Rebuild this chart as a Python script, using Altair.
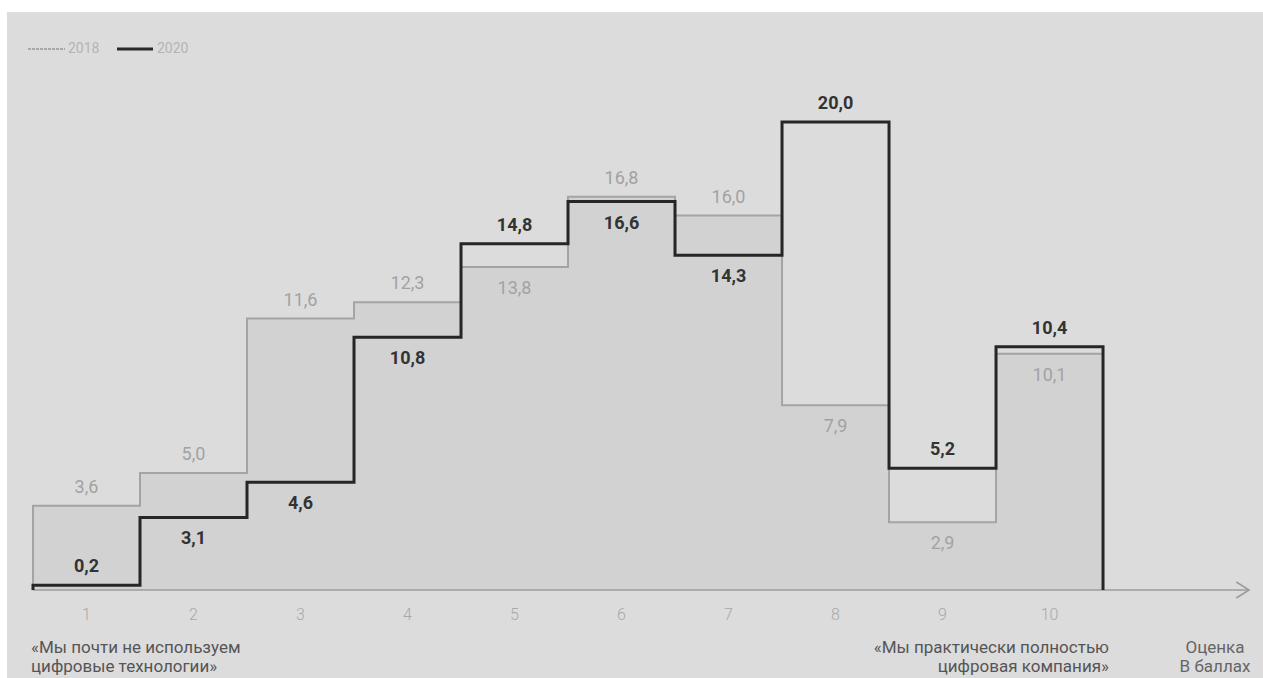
import altair as alt
import pandas as pd

# ---- data ----
scores = [1, 2, 3, 4, 5, 6, 7, 8, 9, 10]
values_2018 = [3.6, 5.0, 11.6, 12.3, 13.8, 16.8, 16.0, 7.9, 2.9, 10.1]
values_2020 = [0.2, 3.1, 4.6, 10.8, 14.8, 16.6, 14.3, 20.0, 5.2, 10.4]
series_names = ["2018", "2020"]
note_left = ["«Мы почти не используем", "цифровые технологии»"]
note_right = ["«Мы практически полностью", "цифровая компания»"]
axis_title = ["Оценка", "В баллах"]

FONT = "Roboto"
C2018_LINE = "#a4a4a4"
C2018_TEXT = "#a2a2a2"
C2020 = "#262626"
FILL = "#d2d2d2"
BG = "#dcdcdc"

W, H = 1256, 666
xscale = alt.Scale(domain=[0.257, 11.995], nice=False, zero=False)
yscale = alt.Scale(domain=[-3.76, 24.70], nice=False, zero=False)


def fmt(v):
    return f"{v:.1f}".replace(".", ",")


def step_points(vals):
    pts = [(scores[0] - 0.5, 0.0)]
    for s, v in zip(scores, vals):
        pts.append((s - 0.5, v))
        pts.append((s + 0.5, v))
    pts.append((scores[-1] + 0.5, 0.0))
    return pd.DataFrame({"x": [p[0] for p in pts], "y": [p[1] for p in pts],
                         "i": list(range(len(pts)))})


bars = pd.DataFrame({
    "score": scores,
    "x0": [s - 0.5 for s in scores],
    "x1": [s + 0.5 for s in scores],
    "zero": [0.0] * len(scores),
    "v2018": values_2018,
    "tick": [str(s) for s in scores],
})

fill = alt.Chart(bars).mark_rect(color=FILL).encode(
    x=alt.X("x0:Q", scale=xscale, axis=None),
    x2="x1:Q",
    y=alt.Y("zero:Q", scale=yscale, axis=None),
    y2="v2018:Q",
)

tick_labels = alt.Chart(bars).mark_text(
    font=FONT, fontSize=16, color="#a8a8a8", fontWeight=300, align="center", baseline="middle"
).encode(
    x=alt.X("score:Q", scale=xscale, axis=None),
    y=alt.value(603),
    text="tick:N",
)

line2018 = alt.Chart(step_points(values_2018)).mark_line(
    color=C2018_LINE, strokeWidth=2, interpolate="linear"
).encode(
    x=alt.X("x:Q", scale=xscale, axis=None),
    y=alt.Y("y:Q", scale=yscale, axis=None),
    order="i:Q",
)

line2020 = alt.Chart(step_points(values_2020)).mark_line(
    color=C2020, strokeWidth=3, interpolate="linear", strokeJoin="miter"
).encode(
    x=alt.X("x:Q", scale=xscale, axis=None),
    y=alt.Y("y:Q", scale=yscale, axis=None),
    order="i:Q",
)

# label placement derived from the values
rows = []
for s, a, b in zip(scores, values_2018, values_2020):
    rows.append({"score": s, "v": a, "t": fmt(a), "series": "2018",
                 "pos": "above" if a > b else "below"})
    rows.append({"score": s, "v": b, "t": fmt(b), "series": "2020",
                 "pos": "above" if (b >= a or b < 1) else "below"})
labels = pd.DataFrame(rows)


def label_layer(series, pos, color, weight):
    df = labels[(labels.series == series) & (labels.pos == pos)]
    mk = dict(font=FONT, fontSize=18, color=color, fontWeight=weight, align="center")
    if pos == "above":
        mk.update(baseline="alphabetic", dy=-13)
    else:
        mk.update(baseline="top", dy=13)
    return alt.Chart(df).mark_text(**mk).encode(
        x=alt.X("score:Q", scale=xscale, axis=None),
        y=alt.Y("v:Q", scale=yscale, axis=None),
        text="t:N",
    )


text_layers = [
    label_layer("2018", "above", C2018_TEXT, 400),
    label_layer("2018", "below", C2018_TEXT, 400),
    label_layer("2020", "above", "#333333", 700),
    label_layer("2020", "below", "#333333", 700),
]

# axis arrow
one = pd.DataFrame({"a": [0]})
axis_line = alt.Chart(pd.DataFrame({"x0": [0.5], "x1": [11.865], "y": [0.0]})).mark_rule(
    color="#9c9c9c", strokeWidth=1.6
).encode(
    x=alt.X("x0:Q", scale=xscale, axis=None), x2="x1:Q",
    y=alt.Y("y:Q", scale=yscale, axis=None),
)
arrow = alt.Chart(pd.DataFrame({"x": [11.865], "y": [0.0]})).mark_point(
    shape="M-1.6,-1L0,0L-1.6,1", filled=False, size=256, color="#9c9c9c", strokeWidth=1.6,
    opacity=1
).encode(
    x=alt.X("x:Q", scale=xscale, axis=None),
    y=alt.Y("y:Q", scale=yscale, axis=None),
)

# legend
leg2018 = alt.Chart(one).mark_rule(color="#a8a8a8", strokeWidth=2, strokeDash=[3, 1]).encode(
    x=alt.value(21), x2=alt.value(58), y=alt.value(37))
leg2020 = alt.Chart(one).mark_rule(color="#2a2a2a", strokeWidth=3).encode(
    x=alt.value(110), x2=alt.value(146), y=alt.value(37))
legt2018 = alt.Chart(one).mark_text(text=series_names[0], font=FONT, fontSize=14, color="#b4b4b4",
                                    align="left", baseline="middle").encode(
    x=alt.value(61), y=alt.value(37))
legt2020 = alt.Chart(one).mark_text(text=series_names[1], font=FONT, fontSize=14, color="#b4b4b4",
                                    align="left", baseline="middle").encode(
    x=alt.value(150), y=alt.value(37))

# notes
note_l = alt.Chart(one).mark_text(text=note_left, font=FONT, fontSize=17, color="#555555",
                                  align="left", baseline="middle", lineHeight=19).encode(
    x=alt.value(24), y=alt.value(636))
note_r = alt.Chart(one).mark_text(text=note_right, font=FONT, fontSize=17, color="#555555",
                                  align="right", baseline="middle", lineHeight=19).encode(
    x=alt.value(1102), y=alt.value(636))
note_t = alt.Chart(one).mark_text(text=axis_title, font=FONT, fontSize=17, color="#666666",
                                  align="center", baseline="middle", lineHeight=19).encode(
    x=alt.value(1208), y=alt.value(636))

chart = alt.layer(
    fill, axis_line, arrow, line2018, line2020, tick_labels, *text_layers,
    leg2018, leg2020, legt2018, legt2020, note_l, note_r, note_t,
).properties(
    width=W, height=H,
    padding={"left": 7, "top": 12, "right": 0, "bottom": 0},
    autosize=alt.AutoSizeParams(type="none"),
    background="white",
).configure_view(fill=BG, stroke=None)

chart.save("out.html", embed_options={"renderer": "svg", "actions": False})
